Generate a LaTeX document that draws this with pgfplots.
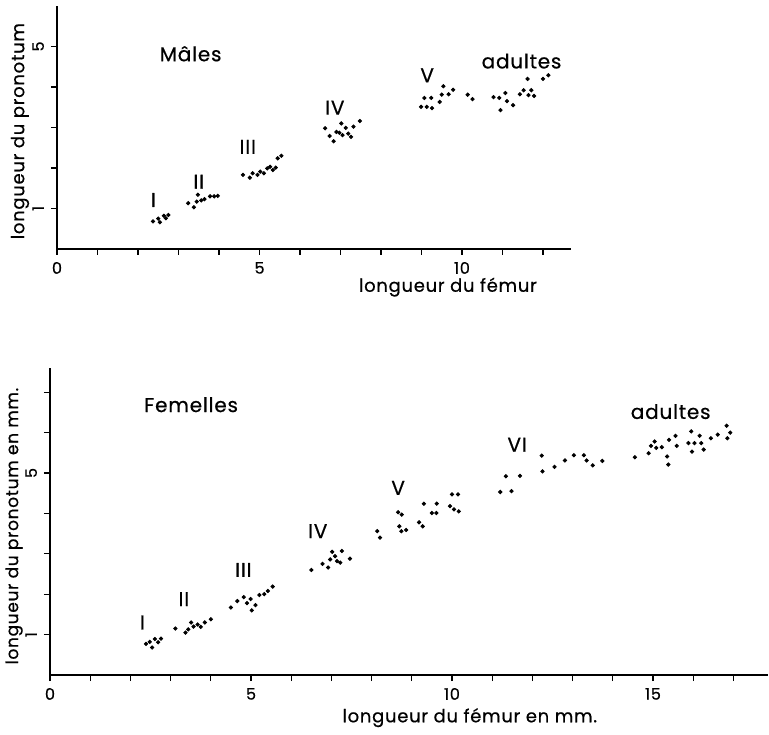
\documentclass[border=0pt]{standalone}
\usepackage{fontspec}
\setmainfont{Poppins}[FakeBold=0.6, LetterSpace=4]
\usepackage{pgfplots}
\usepackage{pgfplotstable}
\pgfplotsset{compat=1.18}

% longueur du fémur / longueur du pronotum, mâles
\pgfplotstableread{
x y
2.37 0.68
2.50 0.75
2.54 0.66
2.64 0.82
2.69 0.76
2.75 0.84
3.24 1.13
3.38 1.03
3.45 1.17
3.48 1.34
3.56 1.20
3.64 1.23
3.78 1.30
3.88 1.30
3.97 1.31
4.59 1.83
4.76 1.76
4.83 1.87
4.95 1.83
5.02 1.91
5.11 1.87
5.19 1.99
5.26 2.03
5.33 1.95
5.40 2.01
5.45 2.24
5.54 2.30
6.62 2.98
6.73 2.79
6.83 2.66
6.90 2.89
6.97 2.87
7.02 3.10
7.05 2.81
7.13 2.99
7.19 2.85
7.26 2.77
7.32 3.02
7.48 3.16
8.99 3.51
9.07 3.73
9.13 3.51
9.24 3.73
9.26 3.48
9.45 3.63
9.50 3.81
9.54 4.02
9.67 3.82
9.78 3.93
10.14 3.81
10.26 3.70
10.78 3.75
10.92 3.73
11.07 3.85
10.95 3.43
11.11 3.65
11.26 3.55
11.43 3.82
11.52 3.92
11.62 4.20
11.64 3.80
11.71 3.92
11.78 3.78
12.00 4.20
12.13 4.29
}\males

% femelles
\pgfplotstableread{
x y
2.39 0.77
2.48 0.82
2.54 0.68
2.61 0.89
2.69 0.81
2.76 0.90
3.12 1.15
3.37 1.05
3.44 1.13
3.51 1.30
3.57 1.20
3.67 1.25
3.75 1.19
3.85 1.30
4.00 1.38
4.50 1.67
4.66 1.83
4.82 1.93
4.90 1.78
4.99 1.88
5.02 1.60
5.11 1.73
5.21 1.98
5.33 2.00
5.42 2.08
5.54 2.19
6.50 2.60
6.78 2.75
6.92 2.66
6.97 2.86
7.02 3.05
7.09 2.94
7.14 2.82
7.22 2.78
7.26 3.07
7.46 2.88
8.14 3.56
8.21 3.40
8.66 4.03
8.75 3.97
8.69 3.68
8.74 3.56
8.86 3.59
9.18 3.78
9.27 3.68
9.30 4.24
9.50 4.01
9.61 4.01
9.62 4.24
9.95 4.18
10.05 4.10
10.17 4.05
10.00 4.47
10.15 4.47
11.20 4.53
11.48 4.55
11.34 4.92
11.69 4.93
12.23 5.43
12.25 5.04
12.55 5.15
12.81 5.31
13.03 5.44
13.28 5.44
13.35 5.31
13.50 5.19
13.74 5.30
14.55 5.39
14.89 5.49
14.95 5.67
15.04 5.78
15.08 5.62
15.22 5.64
15.35 5.41
15.38 5.21
15.40 5.82
15.56 5.92
15.59 5.67
15.88 5.74
15.95 6.03
15.97 5.53
16.03 5.74
16.16 5.92
16.20 5.74
16.26 5.58
16.44 5.86
16.61 5.95
16.83 6.17
16.85 5.86
16.92 6.00
}\femelles

\newcommand\lab{\fontsize{9}{10}\selectfont}
\newcommand\stage{\fontsize{10}{11}\selectfont}

\pgfplotsset{
  croquis/.style={
    axis x line*=bottom, axis y line*=left,
    axis line style={line width=0.9pt, -},
    tick style={black, line width=0.6pt},
    tick align=outside,
    major tick length=3pt, minor tick length=3pt,
    xmin=0, ymin=0,
    anchor=south west,
    clip=false,
    ticklabel style={font=\fontsize{8}{9}\selectfont},
    yticklabel style={rotate=90},
    /pgf/number format/assume math mode=true,
    xlabel style={font=\lab, anchor=center},
    ylabel style={font=\lab, anchor=center, rotate=0},
  },
  points/.style={only marks, mark=*, mark size=0.85pt, black},
}

\begin{document}
\begin{tikzpicture}
\useasboundingbox (0,0) rectangle (384.5pt,367pt);

% Mâles
\begin{axis}[croquis,
    at={(28.5pt,242.5pt)},
    x=20.25pt, y=20.25pt,
    xmax=12.7, ymax=6,
    xtick={0,5,10}, minor xtick={1,2,3,4,6,7,8,9,11,12},
    ytick={1,5}, minor ytick={2,3,4},
    xlabel={longueur du fémur},
    xlabel style={at={(axis description cs:0.760,-0.157)}},
    ylabel={longueur du pronotum},
    ylabel style={at={(axis description cs:-0.072,0.485)}},
]
\addplot[points] table {\males};
\node[font=\stage] at (axis cs:3.30,4.82) {Mâles};
\node[font=\stage] at (axis cs:2.38,1.21) {I};
\node[font=\stage] at (axis cs:3.50,1.66) {II};
\node[font=\stage] at (axis cs:4.71,2.52) {III};
\node[font=\stage] at (axis cs:6.86,3.49) {IV};
\node[font=\stage] at (axis cs:9.14,4.29) {V};
\node[font=\stage] at (axis cs:11.47,4.64) {adultes};
\end{axis}

% Femelles
\begin{axis}[croquis,
    at={(25pt,29.5pt)},
    x=20.1pt, y=20.2pt,
    xmax=17.85, ymax=7.6,
    xtick={0,5,10,15}, minor xtick={1,2,3,4,6,7,8,9,11,12,13,14,16,17},
    ytick={1,5}, minor ytick={2,3,4,6,7},
    xlabel={longueur du fémur en mm.},
    xlabel style={at={(axis description cs:0.585,-0.139)}},
    ylabel={longueur du pronotum en mm.},
    ylabel style={font=\fontsize{8.5}{9}\selectfont, at={(axis description cs:-0.05,0.485)}},
]
\addplot[points] table {\femelles};
\node[font=\stage] at (axis cs:3.51,6.69) {Femelles};
\node[font=\stage] at (axis cs:2.30,1.30) {I};
\node[font=\stage] at (axis cs:3.33,1.88) {II};
\node[font=\stage] at (axis cs:4.81,2.60) {III};
\node[font=\stage] at (axis cs:6.66,3.56) {IV};
\node[font=\stage] at (axis cs:8.66,4.63) {V};
\node[font=\stage] at (axis cs:11.62,5.70) {VI};
\node[font=\stage] at (axis cs:15.44,6.52) {adultes};
\end{axis}
\end{tikzpicture}
\end{document}
